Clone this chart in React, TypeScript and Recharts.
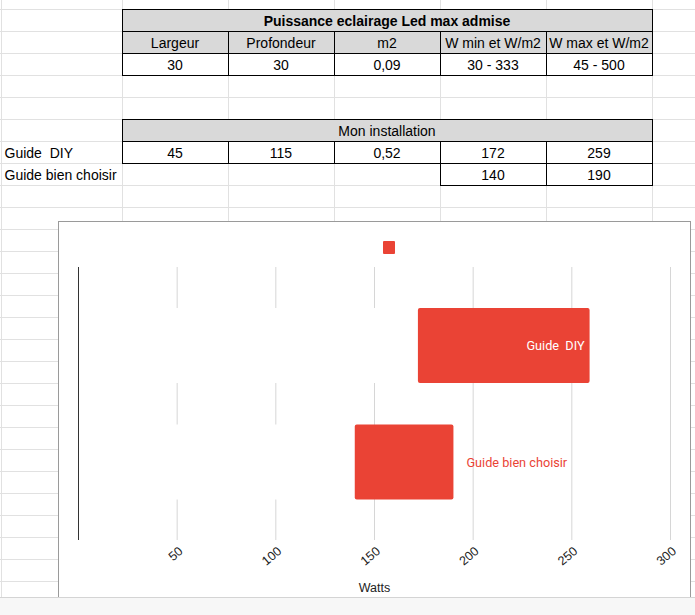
import { Bar, BarChart, CartesianGrid, LabelList, ReferenceLine, XAxis, YAxis } from 'recharts'

// spreadsheet contents
const refTitle = 'Puissance eclairage Led max admise'
const refHeaders = ['Largeur', 'Profondeur', 'm2', 'W min et W/m2', 'W max et W/m2']
const refValues = ['30', '30', '0,09', '30 - 333', '45 - 500']
const installTitle = 'Mon installation'
const categories = ['Guide  DIY', 'Guide bien choisir']
const diyDims = ['45', '115', '0,52']
const minWatts = [172, 140]
const maxWatts = [259, 190]
const wattTicks = [50, 100, 150, 200, 250, 300]

const RED = '#ea4335'
const GRID = '#e1e1e1'
const colX = [1, 122, 228, 334, 440, 546, 652]
const rowY = (k: number) => 9 + 22 * k

const chartData = categories.map((name, i) => ({
  name,
  min: minWatts[i],
  range: maxWatts[i] - minWatts[i],
}))

function Line({ x, y, w, h, color }: { x: number; y: number; w: number; h: number; color: string }) {
  return <div style={{ position: 'absolute', left: x, top: y, width: w, height: h, background: color }} />
}

function Cell({ col, row, span = 1, text, bold, align = 'center' }: any) {
  const left = colX[col]
  const width = colX[col + span] - left
  return (
    <div
      style={{
        position: 'absolute',
        left: align === 'left' ? left + 3.5 : left,
        top: rowY(row) + 1,
        width,
        height: 22,
        lineHeight: '22px',
        textAlign: align,
        fontFamily: '"Liberation Sans", Arial, sans-serif',
        fontSize: 14,
        fontWeight: bold ? 700 : 400,
        color: '#000',
        whiteSpace: 'pre',
      }}
    >
      {text}
    </div>
  )
}

function WattTick({ x, y, payload }: any) {
  const tx = x + 4
  const ty = y + 9.5
  return (
    <text
      x={tx}
      y={ty}
      textAnchor="end"
      dominantBaseline="central"
      transform={`rotate(-40, ${tx}, ${ty})`}
      fontFamily='"Liberation Sans", Arial, sans-serif'
      fontSize={12.6}
      fill="#222"
    >
      {payload.value}
    </text>
  )
}

function BarLabel(props: any) {
  const { x, y, width, height, value } = props
  const textW = String(value).length * 6.4
  const inside = width > textW + 12
  return (
    <text
      x={inside ? x + width - 5 : x + width + 13}
      y={y + height / 2}
      textAnchor={inside ? 'end' : 'start'}
      dominantBaseline="central"
      fontFamily="Roboto"
      fontSize={12.7}
      fill={inside ? '#ffffff' : RED}
      style={{ whiteSpace: 'pre' }}
    >
      {value}
    </text>
  )
}

export default function App() {
  return (
    <div style={{ position: 'absolute', left: 0, top: 0, width: 695, height: 615, overflow: 'hidden', background: '#fff' }}>
      {/* sheet gridlines */}
      {Array.from({ length: 27 }, (_, k) => (
        <Line key={'r' + k} x={0} y={rowY(k)} w={695} h={1} color={GRID} />
      ))}
      {colX.map((x) => (
        <Line key={'c' + x} x={x} y={0} w={1} h={615} color={GRID} />
      ))}

      {/* table 1 */}
      <div style={{ position: 'absolute', left: 122, top: rowY(0), width: 531, height: 44, background: '#d9d9d9' }} />
      <div style={{ position: 'absolute', left: 122, top: rowY(2), width: 531, height: 22, background: '#fff' }} />
      <Cell col={1} row={0} span={5} text={refTitle} bold />
      {refHeaders.map((t, i) => (
        <Cell key={t} col={i + 1} row={1} text={t} />
      ))}
      {refValues.map((t, i) => (
        <Cell key={'v' + i} col={i + 1} row={2} text={t} />
      ))}
      {[0, 1, 2, 3].map((k) => (
        <Line key={'t1h' + k} x={122} y={rowY(k)} w={531} h={1} color="#000" />
      ))}
      <Line x={122} y={rowY(0)} w={1} h={67} color="#000" />
      <Line x={652} y={rowY(0)} w={1} h={67} color="#000" />
      {[228, 334, 440, 546].map((x) => (
        <Line key={'t1v' + x} x={x} y={rowY(1)} w={1} h={45} color="#000" />
      ))}

      {/* table 2 */}
      <div style={{ position: 'absolute', left: 122, top: rowY(5), width: 531, height: 22, background: '#d9d9d9' }} />
      <div style={{ position: 'absolute', left: 122, top: rowY(6) + 1, width: 531, height: 21, background: '#fff' }} />
      <div style={{ position: 'absolute', left: 440, top: rowY(7) + 1, width: 213, height: 21, background: '#fff' }} />
      <Cell col={1} row={5} span={5} text={installTitle} />
      <Cell col={0} row={6} text={categories[0]} align="left" />
      <Cell col={0} row={7} text={categories[1]} align="left" />
      {diyDims.map((t, i) => (
        <Cell key={'d' + i} col={i + 1} row={6} text={t} />
      ))}
      <Cell col={4} row={6} text={String(minWatts[0])} />
      <Cell col={5} row={6} text={String(maxWatts[0])} />
      <Cell col={4} row={7} text={String(minWatts[1])} />
      <Cell col={5} row={7} text={String(maxWatts[1])} />
      {[5, 6, 7].map((k) => (
        <Line key={'t2h' + k} x={122} y={rowY(k)} w={531} h={1} color="#000" />
      ))}
      <Line x={440} y={rowY(8)} w={213} h={1} color="#000" />
      <Line x={122} y={rowY(5)} w={1} h={45} color="#000" />
      {[228, 334].map((x) => (
        <Line key={'t2v' + x} x={x} y={rowY(6)} w={1} h={23} color="#000" />
      ))}
      {[440, 546, 652].map((x) => (
        <Line key={'t2w' + x} x={x} y={x === 652 ? rowY(5) : rowY(6)} w={1} h={x === 652 ? 67 : 45} color="#000" />
      ))}

      {/* chart */}
      <div
        style={{
          position: 'absolute',
          left: 58,
          top: 221,
          width: 633,
          height: 380,
          boxSizing: 'border-box',
          border: '1px solid #9a9a9a',
          background: '#fff',
        }}
      >
        <div style={{ position: 'absolute', left: 324, top: 19, width: 12, height: 13, background: RED, borderRadius: 1 }} />
        <BarChart
          width={631}
          height={378}
          data={chartData}
          layout="vertical"
          margin={{ top: 45, right: 19.5, left: 19.5, bottom: 20 }}
        >
          <CartesianGrid horizontal={false} stroke="#d6d6d6" />
          <XAxis
            type="number"
            domain={[0, 300]}
            ticks={wattTicks}
            interval={0}
            axisLine={false}
            tickLine={false}
            tickSize={0}
            tickMargin={0}
            height={40}
            tick={<WattTick />}
            label={{
              value: 'Watts',
              position: 'bottom',
              offset: 3,
              fill: '#222',
              fontSize: 12.5,
              fontFamily: '"Liberation Sans", Arial, sans-serif',
            }}
          />
          <YAxis type="category" dataKey="name" hide padding={{ top: 20, bottom: 20 }} />
          <Bar dataKey="min" stackId="w" fill="#ffffff" barSize={75} isAnimationActive={false} />
          <Bar dataKey="range" stackId="w" fill={RED} radius={2} barSize={75} isAnimationActive={false}>
            <LabelList dataKey="name" content={<BarLabel />} />
          </Bar>
          <ReferenceLine x={0} stroke="#333" strokeWidth={1} ifOverflow="visible" />
        </BarChart>
      </div>

      {/* sheet footer */}
      <div style={{ position: 'absolute', left: 0, top: 597, width: 695, height: 18, background: '#f7f7f7', borderTop: '1px solid #d4d4d4' }} />
    </div>
  )
}
